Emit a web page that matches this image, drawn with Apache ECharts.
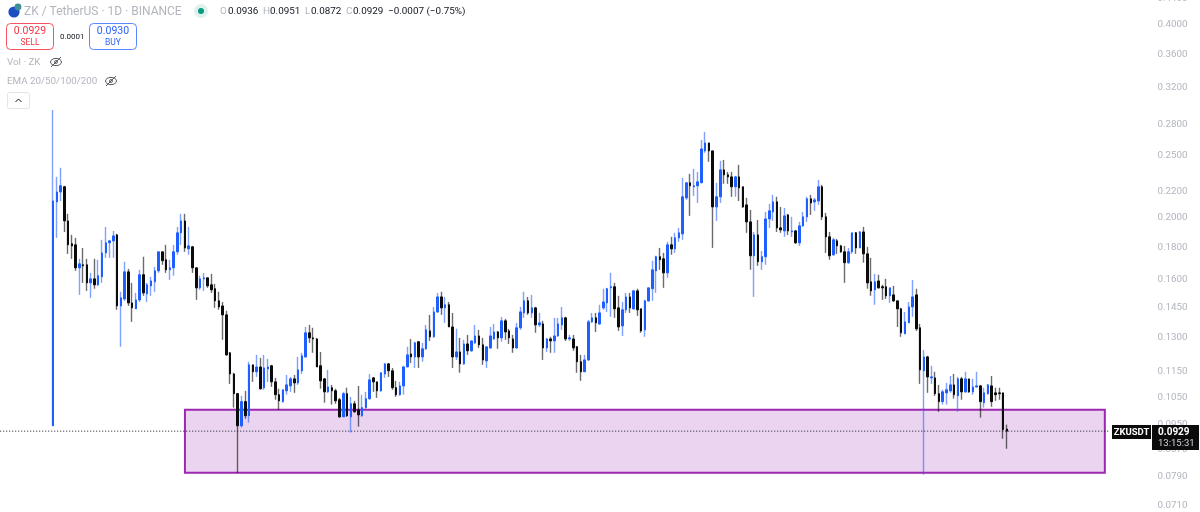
<!DOCTYPE html>
<html><head><meta charset="utf-8">
<style>html,body{margin:0;padding:0;background:#fff}#c{width:1200px;height:512px}</style>
<script src="https://cdn.jsdelivr.net/npm/echarts@6/dist/echarts.min.js"></script>
</head><body><div id="c"></div>
<script>
const opens=[.0947,.2118,.2195,.2236,.1978,.1822,.1815,.1671,.1689,.1689,
.1583,.1606,.1572,.1618,.1763,.1828,.1841,.1881,.1457,.1494,
.1647,.1473,.1442,.1489,.1630,.1522,.1566,.1589,.1653,.1770,
.1720,.1659,.1671,.1770,.1895,.1978,.1789,.1802,.1671,.1555,
.1606,.1612,.1572,.1550,.1484,.1457,.1411,.1231,.1141,.1063,
.0947,.1033,.0982,.1179,.1150,.1170,.1086,.1162,.1175,.1109,
.1059,.1033,.1074,.1093,.1121,.1105,.1154,.1213,.1323,.1299,
.1294,.1175,.1121,.1070,.1086,.1074,.1040,.0978,.1063,.0978,
.1025,.1003,.0982,.1011,.1044,.1125,.1109,.1074,.1141,.1183,
.1154,.1086,.1059,.1093,.1170,.1226,.1213,.1281,.1213,.1249,
.1332,.1304,.1426,.1505,.1447,.1463,.1351,.1213,.1235,.1183,
.1271,.1240,.1276,.1308,.1267,.1196,.1253,.1294,.1327,.1299,
.1381,.1332,.1294,.1253,.1347,.1421,.1484,.1421,.1447,.1361,
.1366,.1253,.1294,.1285,.1308,.1361,.1396,.1294,.1294,.1258,
.1192,.1150,.1200,.1376,.1396,.1366,.1447,.1473,.1555,.1561,
.1447,.1356,.1437,.1505,.1442,.1538,.1442,.1337,.1484,.1550,
.1653,.1739,.1726,.1641,.1815,.1789,.1861,.1888,.2149,.2268,
.2236,.2244,.2268,.2544,.2618,.2544,.2080,.2157,.2376,.2334,
.2317,.2236,.2317,.2236,.2095,.1971,.1745,.1881,.1708,.1739,
.1992,.2043,.2118,.1929,.1908,.2021,.1901,.1908,.1828,.1943,
.2007,.2141,.2118,.2125,.2236,.2007,.1868,.1751,.1841,.1808,
.1770,.1702,.1770,.1895,.1795,.1901,.1757,.1589,.1544,.1594,
.1561,.1561,.1511,.1516,.1484,.1442,.1318,.1371,.1452,.1516,
.1347,.1154,.1213,.1125,.1125,.1063,.1033,.1066,.1074,.1097,
.1055,.1121,.1070,.1121,.1070,.1089,.1093,.1029,.1063,.1093,
.1066,.1066,.1066,.0936];
const highs=[.2947,.2317,.2394,.2244,.2029,.1881,.1861,.1726,.1795,.1726,
.1641,.1726,.1720,.1848,.1936,.1848,.1908,.1888,.1533,.1708,
.1665,.1583,.1527,.1659,.1739,.1583,.1618,.1677,.1770,.1770,
.1815,.1720,.1815,.1936,.2029,.2029,.1936,.1808,.1671,.1624,
.1641,.1612,.1635,.1577,.1533,.1478,.1432,.1235,.1146,.1066,
.1055,.1074,.1192,.1179,.1222,.1209,.1222,.1205,.1179,.1125,
.1082,.1078,.1137,.1129,.1137,.1213,.1231,.1351,.1361,.1347,
.1299,.1235,.1125,.1158,.1097,.1082,.1047,.1070,.1086,.1051,
.1036,.1093,.1059,.1070,.1141,.1129,.1109,.1146,.1187,.1187,
.1166,.1113,.1109,.1175,.1258,.1294,.1281,.1285,.1276,.1361,
.1411,.1452,.1527,.1533,.1505,.1478,.1421,.1342,.1299,.1290,
.1313,.1285,.1361,.1337,.1299,.1258,.1351,.1366,.1332,.1401,
.1391,.1342,.1313,.1371,.1452,.1533,.1505,.1516,.1452,.1421,
.1381,.1299,.1304,.1396,.1396,.1452,.1401,.1313,.1313,.1262,
.1222,.1222,.1386,.1421,.1421,.1463,.1550,.1555,.1641,.1583,
.1511,.1478,.1527,.1527,.1544,.1550,.1442,.1489,.1555,.1714,
.1745,.1795,.1763,.1835,.1868,.1895,.1929,.2309,.2276,.2342,
.2385,.2359,.2646,.2724,.2618,.2544,.2268,.2454,.2463,.2359,
.2359,.2326,.2420,.2236,.2149,.2058,.1901,.1985,.1776,.2043,
.2103,.2172,.2157,.2080,.2073,.2029,.2007,.1915,.1971,.2043,
.2157,.2172,.2149,.2292,.2252,.2036,.1901,.1861,.1854,.1815,
.1808,.1795,.1895,.1901,.1908,.1936,.1802,.1732,.1635,.1630,
.1572,.1606,.1555,.1566,.1484,.1447,.1426,.1478,.1600,.1550,
.1366,.1244,.1218,.1175,.1150,.1097,.1078,.1105,.1133,.1141,
.1129,.1129,.1150,.1121,.1121,.1150,.1097,.1086,.1101,.1133,
.1086,.1086,.1066,.0951];
const lows=[.0947,.1861,.2125,.1901,.1757,.1726,.1653,.1516,.1583,.1538,
.1500,.1550,.1566,.1583,.1732,.1732,.1732,.1437,.1258,.1484,
.1457,.1376,.1442,.1478,.1511,.1478,.1511,.1533,.1641,.1689,
.1641,.1600,.1624,.1751,.1815,.1770,.1751,.1641,.1489,.1544,
.1538,.1555,.1527,.1447,.1437,.1290,.1218,.1101,.1011,.0800,
.0941,.0971,.0958,.1109,.1129,.1078,.1078,.1109,.1089,.1040,
.1003,.1029,.1059,.1070,.1066,.1097,.1141,.1209,.1276,.1231,
.1170,.1082,.1029,.1066,.1022,.1025,.0975,.0978,.0978,.0924,
.0993,.0944,.0978,.1007,.1040,.1070,.1047,.1070,.1125,.1129,
.1078,.1051,.1055,.1059,.1170,.1187,.1166,.1166,.1192,.1244,
.1285,.1299,.1421,.1411,.1371,.1351,.1166,.1200,.1146,.1179,
.1222,.1235,.1271,.1253,.1179,.1166,.1249,.1290,.1249,.1281,
.1290,.1271,.1231,.1249,.1337,.1396,.1411,.1396,.1323,.1351,
.1200,.1235,.1231,.1231,.1304,.1337,.1285,.1285,.1240,.1146,
.1113,.1150,.1196,.1371,.1327,.1361,.1437,.1426,.1401,.1396,
.1332,.1308,.1421,.1421,.1437,.1406,.1323,.1304,.1478,.1484,
.1527,.1659,.1555,.1612,.1751,.1763,.1835,.1848,.2133,.2014,
.2164,.2110,.2268,.2526,.2446,.1795,.1978,.2110,.2260,.2260,
.2157,.2157,.2125,.2073,.1895,.1659,.1505,.1683,.1659,.1689,
.1929,.1978,.1901,.1895,.1868,.1881,.1868,.1822,.1808,.1936,
.1971,.2021,.2051,.2095,.1985,.1763,.1720,.1745,.1757,.1763,
.1583,.1695,.1757,.1757,.1795,.1702,.1550,.1511,.1463,.1550,
.1489,.1494,.1473,.1478,.1351,.1304,.1318,.1371,.1401,.1332,
.1101,.0794,.1066,.1101,.1055,.0996,.1022,.1022,.1066,.1044,
.0996,.1040,.1066,.1066,.1059,.1086,.0975,.1011,.1059,.1014,
.1036,.1040,.0904,.0872];
const closes=[.2125,.2195,.2244,.1978,.1815,.1808,.1671,.1695,.1683,.1583,
.1606,.1572,.1624,.1763,.1828,.1841,.1874,.1457,.1500,.1647,
.1473,.1447,.1489,.1630,.1527,.1572,.1594,.1653,.1770,.1714,
.1659,.1671,.1770,.1895,.1978,.1795,.1808,.1671,.1555,.1606,
.1612,.1566,.1544,.1484,.1452,.1411,.1222,.1141,.1063,.0947,
.1033,.0982,.1179,.1150,.1170,.1082,.1166,.1170,.1109,.1059,
.1036,.1078,.1097,.1121,.1105,.1158,.1218,.1323,.1299,.1294,
.1170,.1113,.1070,.1089,.1074,.1036,.0978,.1063,.0982,.1025,
.0996,.0985,.1011,.1044,.1117,.1109,.1074,.1146,.1183,.1154,
.1086,.1059,.1093,.1170,.1222,.1213,.1276,.1213,.1249,.1337,
.1304,.1426,.1505,.1447,.1463,.1351,.1213,.1235,.1183,.1271,
.1240,.1285,.1308,.1267,.1200,.1258,.1308,.1327,.1299,.1381,
.1327,.1299,.1253,.1347,.1426,.1484,.1421,.1447,.1361,.1371,
.1253,.1294,.1285,.1308,.1366,.1396,.1294,.1299,.1253,.1192,
.1150,.1200,.1376,.1396,.1371,.1421,.1478,.1550,.1561,.1442,
.1351,.1437,.1505,.1447,.1538,.1437,.1332,.1484,.1555,.1659,
.1739,.1720,.1641,.1815,.1789,.1861,.1895,.2157,.2268,.2244,
.2244,.2276,.2562,.2618,.2544,.2080,.2157,.2376,.2334,.2317,
.2236,.2317,.2228,.2080,.1971,.1745,.1881,.1708,.1739,.1992,
.2051,.2118,.1929,.1915,.2014,.1908,.1908,.1828,.1943,.2007,
.2141,.2110,.2133,.2236,.2007,.1868,.1745,.1848,.1808,.1770,
.1702,.1770,.1895,.1795,.1901,.1757,.1583,.1538,.1589,.1555,
.1555,.1511,.1555,.1484,.1442,.1323,.1376,.1452,.1505,.1342,
.1158,.1213,.1129,.1129,.1063,.1033,.1070,.1078,.1097,.1059,
.1121,.1070,.1121,.1070,.1089,.1093,.1033,.1066,.1097,.1033,
.1059,.1063,.0934,.0929];
const yTicks=[0.44,0.40,0.36,0.32,0.28,0.25,0.22,0.20,0.18,0.16,0.145,0.13,0.115,0.105,0.095,0.087,0.079,0.071];
const lastPrice=0.0929, zoneTop=0.1003, zoneBottom=0.0800;
const leadBlank=14, totalBands=295, zoneFrom=49, zoneTo=293;
const categories=Array.from({length:totalBands},(_,i)=>String(i));

const UP='#1f5fff',DOWN='#0b0b0b',UPW='rgba(41,98,255,.6)',DOWNW='rgba(0,0,0,.58)';
const idx=opens.map((_,i)=>i);
const wickData=idx.map(i=>[i+leadBlank,opens[i],closes[i],lows[i],highs[i]]);
const bodyData=idx.map(i=>[i+leadBlank,opens[i],closes[i],Math.min(opens[i],closes[i]),Math.max(opens[i],closes[i])]);

const F='Roboto, "Noto Sans", sans-serif';
const T=(x,y,text,fill,size,extra)=>({type:'text',x,y,silent:true,z:50,style:Object.assign({text,fill,font:`${size}px ${F}`,textVerticalAlign:'middle'},extra||{})});
const R=(x,y,w,h,fill,stroke,r)=>({type:'rect',z:49,silent:true,shape:{x,y,width:w,height:h,r:r||0},style:{fill,stroke:stroke||null,lineWidth:1}});
const eye=(cx,cy)=>[
 {type:'ellipse',z:50,silent:true,shape:{cx,cy,rx:5.5,ry:3.6},style:{fill:'none',stroke:'#55585f',lineWidth:1}},
 {type:'circle',z:50,silent:true,shape:{cx,cy,r:1.5},style:{fill:'none',stroke:'#55585f',lineWidth:.9}},
 {type:'line',z:50,silent:true,shape:{x1:cx-5,y1:cy+5,x2:cx+5,y2:cy-5},style:{stroke:'#55585f',lineWidth:1}}
];
const GR='#b2b5be',BK='#131722';
const graphics=[
 {type:'circle',z:50,silent:true,shape:{cx:14,cy:12,r:5.6},style:{fill:'#1e4fc2'}},
 {type:'circle',z:50,silent:true,shape:{cx:18,cy:7,r:3.4},style:{fill:'#3f8f9a'}},
 T(24,11.5,'ZK / TetherUS · 1D · BINANCE',GR,12),
 {type:'circle',z:50,silent:true,shape:{cx:201,cy:11,r:7},style:{fill:'#dff1ee'}},
 {type:'circle',z:50,silent:true,shape:{cx:201,cy:11,r:3},style:{fill:'#089981'}},
 T(220,11.5,'O',GR,9.9),T(228,11.5,'0.0936',BK,9.9),
 T(263,11.5,'H',GR,9.9),T(270,11.5,'0.0951',BK,9.9),
 T(305,11.5,'L',GR,9.9),T(311,11.5,'0.0872',BK,9.9),
 T(346,11.5,'C',GR,9.9),T(353,11.5,'0.0929',BK,9.9),
 T(388,11.5,'−0.0007 (−0.75%)',BK,9.9),
 R(6.5,23.5,47,26,'#fff','#f7525f',4),
 T(30,31.5,'0.0929','#f23645',10.5,{textAlign:'center'}),
 T(30,43,'SELL','#f23645',8.5,{textAlign:'center'}),
 T(60,37,'0.0001',BK,8),
 R(89.5,23.5,47,26,'#fff','#5a86ff',4),
 T(113,31.5,'0.0930','#2962ff',10.5,{textAlign:'center'}),
 T(113,43,'BUY','#2962ff',8.5,{textAlign:'center'}),
 T(7,62.5,'Vol · ZK',GR,9.8),...eye(56,62),
 T(7,81.5,'EMA 20/50/100/200',GR,9.8),...eye(111,81),
 R(7.5,92.5,22,16,'#fff','#e0e3eb',2),
 {type:'polyline',z:50,silent:true,shape:{points:[[15.5,102],[18.5,99],[21.5,102]]},style:{fill:'none',stroke:'#131722',lineWidth:1}},
 R(1112,425,39,14,'#0b0b0b'),
 T(1131.5,432.5,'ZKUSDT','#fff',9.5,{textAlign:'center',font:`bold 9.5px ${F}`}),
 R(1152,425,47,25,'#0b0b0b'),
 T(1158,432.5,'0.0929','#fff',10,{font:`bold 10px ${F}`}),
 T(1158,443.5,'13:15:31','#d1d4dc',9.5)
];

const chart=echarts.init(document.getElementById('c'),null,{renderer:'canvas'});
chart.setOption({
 animation:false,backgroundColor:'#fff',
 grid:{left:-1.67,top:-10,width:295*3.77,height:530,containLabel:false,outerBoundsMode:'none'},
 xAxis:{type:'category',data:categories,axisLine:{show:false},axisTick:{show:false},axisLabel:{show:false},splitLine:{show:false}},
 yAxis:{type:'log',logBase:10,min:0.0675,max:0.4536,position:'right',scale:true,
  axisLine:{show:false},axisTick:{show:false},splitLine:{show:false},minorTick:{show:false},minorSplitLine:{show:false},
  axisLabel:{customValues:yTicks,margin:47,color:'#b2b5be',fontFamily:'Roboto',fontSize:9.8,formatter:v=>(+v).toFixed(4)}},
 series:[
  {name:'wick',type:'candlestick',barWidth:1,encode:{x:0,y:[1,2,3,4]},data:wickData,z:3,silent:true,
   itemStyle:{color:'transparent',color0:'transparent',borderColor:UPW,borderColor0:DOWNW,borderColorDoji:DOWNW,borderWidth:1.4},
   markArea:{silent:true,z:1,itemStyle:{color:'rgba(156,39,176,.2)',borderColor:'#9c27b0',borderWidth:2},
    data:[[{xAxis:zoneFrom,yAxis:zoneTop},{xAxis:zoneTo,yAxis:zoneBottom}]]}},
  {name:'last',type:'line',silent:true,z:4,showSymbol:false,symbol:'none',encode:{x:0,y:1},
   data:[[0,lastPrice],[totalBands-1,lastPrice]],lineStyle:{color:'#131722',type:[1,2],width:1}},
  {name:'body',type:'candlestick',barWidth:2,encode:{x:0,y:[1,2,3,4]},data:bodyData,z:5,silent:true,
   itemStyle:{color:UP,color0:DOWN,borderColor:UP,borderColor0:DOWN,borderColorDoji:DOWN,borderWidth:1}}
 ],
 graphic:graphics
});
</script></body></html>
